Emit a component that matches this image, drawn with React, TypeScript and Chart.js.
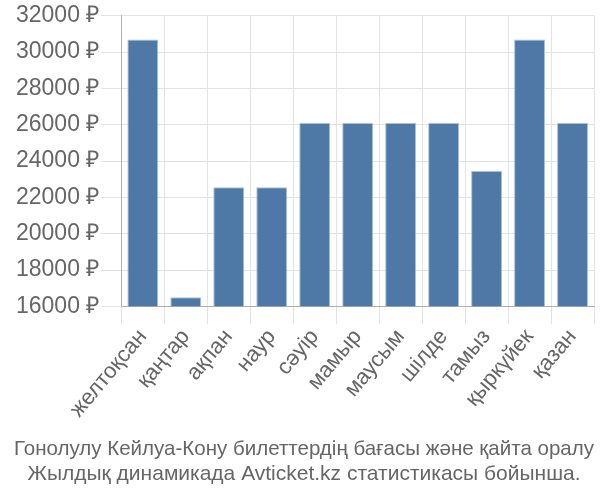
import React, { useEffect, useRef } from "react";
import { Chart, registerables } from "chart.js";

Chart.register(...registerables);

const months = ["желтоқсан", "қаңтар", "ақпан", "наур", "сәуір", "мамыр", "маусым", "шілде", "тамыз", "қыркүйек", "қазан"];
const prices = [30700, 16500, 22560, 22560, 26100, 26100, 26100, 26100, 23450, 30700, 26100];
const titleLines = [
  "Гонолулу Кейлуа-Кону билеттердің бағасы және қайта оралу",
  "Жылдық динамикада Avticket.kz статистикасы бойынша.",
];
const yMin = 16000;
const yMax = 32000;
const yStep = 2000;

export default function App() {
  const ref = useRef<HTMLCanvasElement | null>(null);
  useEffect(() => {
    document.body.style.margin = "0";
    const ctx = ref.current;
    if (!ctx) return;
    const chart = new Chart(ctx, {
      type: "bar",
      data: {
        labels: months,
        datasets: [
          {
            data: prices,
            backgroundColor: "#4e79a7",
            borderColor: "rgba(160,185,215,0.9)",
            borderWidth: 1,
            barPercentage: 0.72,
            categoryPercentage: 1,
          },
        ],
      },
      options: {
        animation: false,
        responsive: false,
        maintainAspectRatio: false,
        layout: { padding: { left: 14, right: 6, top: 4, bottom: 0 } },
        plugins: {
          legend: { display: false },
          tooltip: { enabled: false },
          title: {
            display: true,
            position: "bottom",
            text: titleLines,
            color: "#666",
            font: { family: "'Liberation Sans', Arial, sans-serif", size: 21, weight: "normal" },
            lineHeight: 1.35,
            padding: { top: 14, bottom: 13 },
          },
        },
        scales: {
          x: {
            grid: { color: "#e3e3e3", lineWidth: 1, tickLength: 18, offset: true },
            border: { color: "#b0b0b0" },
            ticks: {
              color: "#666",
              font: { family: "'Liberation Sans', Arial, sans-serif", size: 22 },
              minRotation: 50,
              maxRotation: 50,
              padding: 0,
            },
          },
          y: {
            min: yMin,
            max: yMax,
            grid: { color: "#e3e3e3", lineWidth: 1, tickLength: 20 },
            border: { color: "#b0b0b0" },
            ticks: {
              stepSize: yStep,
              color: "#666",
              font: { family: "'Liberation Sans', Arial, sans-serif", size: 23 },
              padding: 2,
              callback: (v: any) => v + " ₽",
            },
          },
        },
      },
    });
    return () => chart.destroy();
  }, []);
  return (
    <div style={{ width: 600, height: 500 }}>
      <canvas ref={ref} width={600} height={500} />
    </div>
  );
}
